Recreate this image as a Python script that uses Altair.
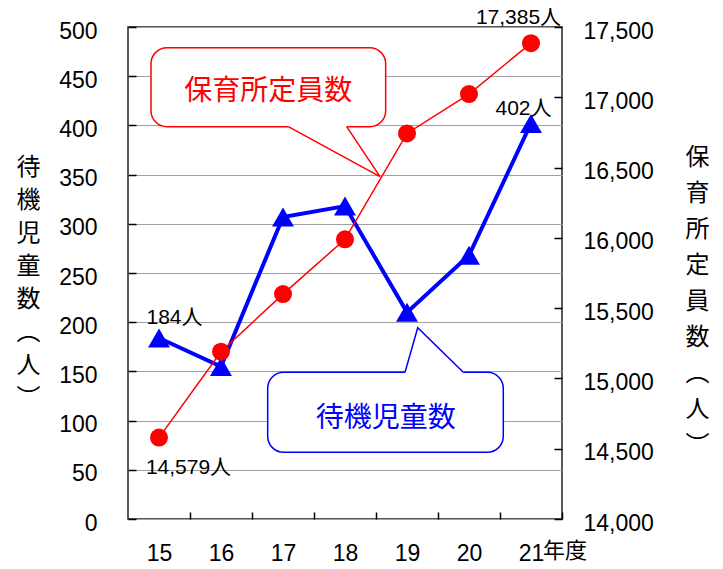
import altair as alt
import pandas as pd

# ---- data ----
years = [15, 16, 17, 18, 19, 20, 21]
waiting = [184, 155, 307, 318, 210, 268, 402]            # 待機児童数 (left axis)
capacity = [14579, 15190, 15600, 15990, 16743, 17023, 17385]  # 保育所定員数 (right axis)
left_ticks = list(range(0, 501, 50))
right_ticks = list(range(14000, 17501, 500))
left_title = ["待", "機", "児", "童", "数", "︵", "人", "︶"]
right_title = ["保", "育", "所", "定", "員", "数", "︵", "人", "︶"]
year_suffix = "年度"

wait_label_text = ["184人", "402人"]
cap_label_text = ["14,579人", "17,385人"]

# callout bubbles, in data units (x: year, y: left axis)
red_box = {"x1": 14.871, "x2": 18.656, "y1": 398.7, "y2": 479.0}
red_tail_x = [17.085, 18.565, 18.027]
red_tail_y = [398.7, 347.9, 398.7]
red_text = {"x": 16.763, "y": 434.0, "t": "保育所定員数"}
blue_box = {"x1": 16.753, "x2": 20.553, "y1": 67.8, "y2": 149.1}
blue_tail_x = [18.968, 19.173, 19.908]
blue_tail_y = [149.1, 194.4, 149.1]
blue_text = {"x": 18.658, "y": 102.0, "t": "待機児童数"}

RED = "#ff0000"
BLUE = "#0000ff"
NUM_FONT = "Liberation Sans, Noto Sans CJK JP, sans-serif"
JP_FONT = "Noto Sans CJK JP, sans-serif"

df = pd.DataFrame({"year": years, "waiting": waiting, "capacity": capacity})

xs = alt.Scale(domain=[14.5, 21.5], nice=False, zero=False)
yls = alt.Scale(domain=[0, 500], nice=False, zero=False)
yrs = alt.Scale(domain=[14000, 17500], nice=False, zero=False)

x_axis = alt.Axis(values=years, format="d", title=None, grid=False, domain=False,
                  tickSize=7, tickWidth=1.5, tickColor="black", offset=-7, tickOffset=31,
                  labelOffset=-31,
                  labelFont=NUM_FONT, labelFontSize=23, labelColor="black",
                  labelPadding=23)
yl_axis = alt.Axis(values=left_ticks, title=left_title, orient="left",
                   grid=True, gridColor="#a0a0a0", gridWidth=1, domain=False,
                   tickSize=8, tickWidth=1.5, tickColor="black", offset=-8,
                   labelFont=NUM_FONT, labelFontSize=23, labelColor="black",
                   labelPadding=31, labelOffset=4,
                   titleFont=JP_FONT, titleFontSize=24, titleFontWeight="normal",
                   titleColor="black", titleAngle=0, titleAlign="center",
                   titleBaseline="top", titleLineHeight=33, titleX=-108, titleY=128)
yr_axis = alt.Axis(values=right_ticks, format=",.0f", title=right_title, orient="right",
                   grid=False, domain=False,
                   tickSize=8, tickWidth=1.5, tickColor="black", offset=-8,
                   labelFont=NUM_FONT, labelFontSize=23, labelColor="black",
                   labelPadding=21, labelOffset=4,
                   titleFont=JP_FONT, titleFontSize=24, titleFontWeight="normal",
                   titleColor="black", titleAngle=0, titleAlign="center",
                   titleBaseline="top", titleLineHeight=36, titleX=143, titleY=118)


def X(field):
    return alt.X(field, type="quantitative", scale=xs, axis=x_axis)


def YL(field):
    return alt.Y(field, type="quantitative", scale=yls, axis=yl_axis)


def YR(field):
    return alt.Y(field, type="quantitative", scale=yrs, axis=yr_axis)


# ---- left-axis layers (待機児童数) ----
blue_line = alt.Chart(df).mark_line(color=BLUE, strokeWidth=4).encode(x=X("year"), y=YL("waiting"))
blue_pts = alt.Chart(df).mark_point(shape="triangle-up", filled=True, size=480, color=BLUE,
                                    opacity=1).encode(x=X("year"), y=YL("waiting"))


def bubble(box, tail_x, tail_y, text, color):
    bdf = pd.DataFrame([box])
    rect = alt.Chart(bdf).mark_rect(fill="white", stroke=color, strokeWidth=1.5,
                                    cornerRadius=16).encode(
        x=X("x1"), x2="x2", y=YL("y1"), y2="y2")
    cover = alt.Chart(pd.DataFrame({"a": [tail_x[0]], "b": [tail_x[2]], "y": [tail_y[0]]})).mark_rule(
        color="white", strokeWidth=3).encode(x=X("a"), x2="b", y=YL("y"))
    tail = alt.Chart(pd.DataFrame({"x": tail_x, "y": tail_y, "o": [0, 1, 2]})).mark_line(
        color=color, strokeWidth=1.5).encode(x=X("x"), y=YL("y"), order="o:Q")
    txt = alt.Chart(pd.DataFrame([text])).mark_text(
        font=JP_FONT, fontSize=28, color=color, baseline="middle", align="center").encode(
        x=X("x"), y=YL("y"), text="t:N")
    return [rect, cover, tail, txt]


def point_label(year, value, text, yenc, dx, dy):
    d = pd.DataFrame({"year": [year], "v": [value], "t": [text]})
    return alt.Chart(d).mark_text(font=NUM_FONT, fontSize=21, color="black",
                                  baseline="middle", align="center", dx=dx, dy=dy).encode(
        x=X("year"), y=yenc("v"), text="t:N")


suffix = alt.Chart(pd.DataFrame({"year": [years[-1]], "v": [0], "t": [year_suffix]})).mark_text(
    font=JP_FONT, fontSize=22, color="black", align="left", baseline="middle", dx=12, dy=32
).encode(x=X("year"), y=YL("v"), text="t:N")

left = alt.layer(
    blue_line, blue_pts,
    *bubble(red_box, red_tail_x, red_tail_y, red_text, RED),
    *bubble(blue_box, blue_tail_x, blue_tail_y, blue_text, BLUE),
    point_label(years[0], waiting[0], wait_label_text[0], YL, 15.5, -20),
    point_label(years[-1], waiting[-1], wait_label_text[1], YL, -7.5, -14),
    suffix,
)

# ---- right-axis layers (保育所定員数) ----
red_line = alt.Chart(df).mark_line(color=RED, strokeWidth=1.5).encode(x=X("year"), y=YR("capacity"))
red_pts = alt.Chart(df).mark_point(shape="circle", filled=True, size=324, color=RED,
                                   opacity=1).encode(x=X("year"), y=YR("capacity"))

right = alt.layer(
    red_line, red_pts,
    point_label(years[0], capacity[0], cap_label_text[0], YR, 29.5, 30),
    point_label(years[-1], capacity[-1], cap_label_text[1], YR, -12.5, -25),
)

chart = alt.layer(left, right).resolve_scale(y="independent").properties(
    width=434, height=492,
    autosize=alt.AutoSizeParams(type="none"),
    padding={"left": 120, "top": 19, "right": 153, "bottom": 42},
    background="white",
).configure_view(stroke="#222222", strokeWidth=1.5)

chart.save("out.html", embed_options={"renderer": "svg", "actions": False})
